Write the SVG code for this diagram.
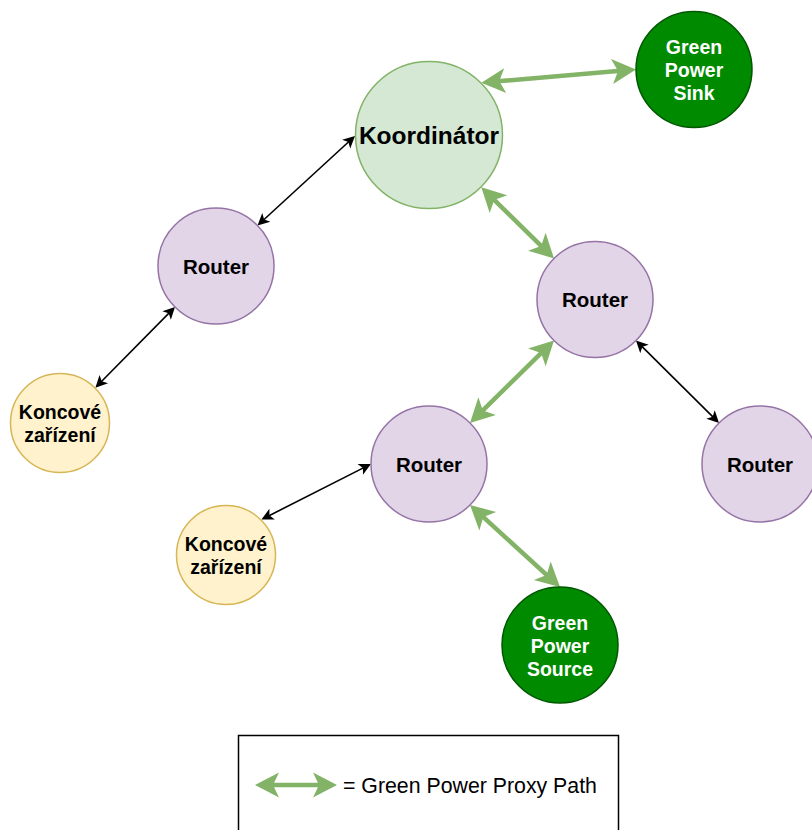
<svg xmlns="http://www.w3.org/2000/svg" width="812" height="830" viewBox="0 0 812 830">
<defs>
<marker id="ablack" markerUnits="userSpaceOnUse" markerWidth="14" markerHeight="14" refX="-3" refY="0" orient="auto-start-reverse" overflow="visible">
<path d="M0,0 L-12,-6 L-9,0 L-12,6 Z" fill="#000"/>
</marker>
<marker id="agreen" markerUnits="userSpaceOnUse" markerWidth="26" markerHeight="26" refX="-7" refY="0" orient="auto-start-reverse" overflow="visible">
<path d="M0,0 L-24,-12.5 L-18,0 L-24,12.5 Z" fill="#82b366"/>
</marker>
</defs>
<style>
.router{fill:#e1d5e7;stroke:#9673a6;stroke-width:1.5}
.end{fill:#fff2cc;stroke:#d6b656;stroke-width:1.5}
.coord{fill:#d5e8d4;stroke:#82b366;stroke-width:1.5}
.gp{fill:#008a00;stroke:#005700;stroke-width:1.5}
.t{font-family:"Liberation Sans",Arial,sans-serif;font-weight:bold;font-size:19.5px;text-anchor:middle;fill:#000}
.r{font-size:20.5px}
.w{fill:#fff}
.blk{stroke:#000;stroke-width:1.6;fill:none;marker-start:url(#ablack);marker-end:url(#ablack)}
.grn{stroke:#82b366;stroke-width:4.5;fill:none;marker-start:url(#agreen);marker-end:url(#agreen)}
</style>
<rect width="812" height="830" fill="#fff"/>
<g id="connectors">
<line class="grn" x1="488.3" y1="82.1" x2="629.0" y2="70.1"/>
<line class="grn" x1="486.3" y1="192.2" x2="549.0" y2="253.6"/>
<line class="grn" x1="549.0" y1="345.4" x2="475.0" y2="418.1"/>
<line class="grn" x1="475.2" y1="509.7" x2="554.8" y2="582.3"/>
<line class="blk" x1="352.8" y1="138.0" x2="259.7" y2="223.5"/>
<line class="blk" x1="172.9" y1="309.1" x2="97.5" y2="385.5"/>
<line class="blk" x1="638.1" y1="342.6" x2="716.9" y2="420.9"/>
<line class="blk" x1="368.3" y1="465.4" x2="264.1" y2="518.2"/>
</g>
<g id="koordinator">
<circle class="coord" cx="429" cy="135" r="73.5"/>
<text class="t" x="429" y="144" style="font-size:24.5px">Koordinátor</text>
</g>
<g id="gp-sink">
<circle class="gp" cx="694" cy="69.5" r="58"/>
<text class="t w" x="694" y="54">Green</text>
<text class="t w" x="694" y="77">Power</text>
<text class="t w" x="694" y="100">Sink</text>
</g>
<g id="router1">
<circle class="router" cx="216" cy="266" r="58"/>
<text class="t r" x="216" y="273.5">Router</text>
</g>
<g id="router2">
<circle class="router" cx="595" cy="299.5" r="58"/>
<text class="t r" x="595" y="307">Router</text>
</g>
<g id="router3">
<circle class="router" cx="429" cy="464" r="58"/>
<text class="t r" x="429" y="471.5">Router</text>
</g>
<g id="router4">
<circle class="router" cx="760" cy="464" r="58"/>
<text class="t r" x="760" y="471.5">Router</text>
</g>
<g id="end1">
<circle class="end" cx="60" cy="423" r="49.5"/>
<text class="t" x="60" y="419">Koncové</text>
<text class="t" x="60" y="442">zařízení</text>
</g>
<g id="end2">
<circle class="end" cx="226" cy="555" r="49.5"/>
<text class="t" x="226" y="551">Koncové</text>
<text class="t" x="226" y="574">zařízení</text>
</g>
<g id="gp-source">
<circle class="gp" cx="560" cy="645" r="58"/>
<text class="t w" x="560" y="629.5">Green</text>
<text class="t w" x="560" y="652.5">Power</text>
<text class="t w" x="560" y="675.5">Source</text>
</g>
<g id="legend">
<rect x="238.5" y="735.5" width="380" height="110" fill="#fff" stroke="#000" stroke-width="1.5"/>
<line class="grn" x1="262" y1="785" x2="330" y2="785"/>
<text x="343" y="792.5" style="font-family:'Liberation Sans',Arial,sans-serif;font-size:21.3px;fill:#000">= Green Power Proxy Path</text>
</g>
</svg>
